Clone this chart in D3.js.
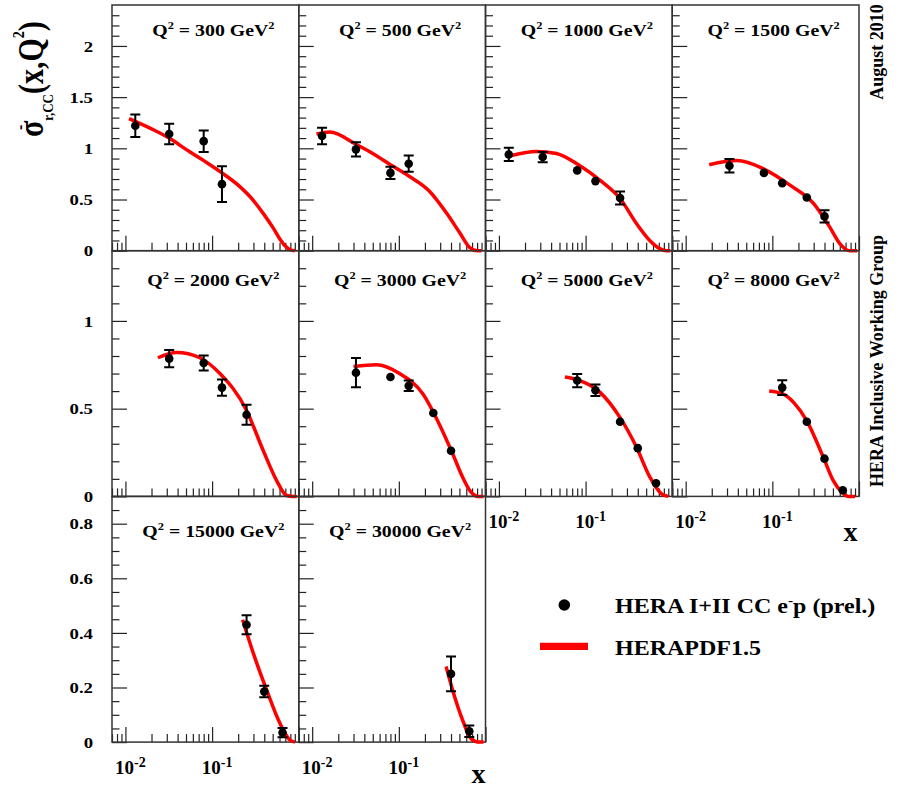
<!DOCTYPE html>
<html>
<head>
<meta charset="utf-8">
<script src="https://cdn.jsdelivr.net/npm/d3@7"></script>
<style>
  body { margin: 0; background: #fff; }
  svg { display: block; }
  text { font-family: "Liberation Serif", "Times New Roman", serif; font-weight: bold; fill: #000; }
</style>
</head>
<body>
<div id="chart"></div>
<script>
const q2List = [300, 500, 1000, 1500, 2000, 3000, 5000, 8000, 15000, 30000];

// measured points (x, sigma, error) per Q2 bin
const dataX = [
  [0.013, 0.032, 0.08, 0.13],
  [0.013, 0.032, 0.08, 0.13],
  [0.013, 0.032, 0.08, 0.13, 0.25],
  [0.032, 0.08, 0.13, 0.25, 0.4],
  [0.032, 0.08, 0.13, 0.25],
  [0.032, 0.08, 0.13, 0.25, 0.4],
  [0.08, 0.13, 0.25, 0.4, 0.65],
  [0.13, 0.25, 0.4, 0.65],
  [0.25, 0.4, 0.65],
  [0.4, 0.65]
];
const dataY = [
  [1.22, 1.14, 1.07, 0.65],
  [1.12, 0.99, 0.76, 0.85],
  [0.94, 0.915, 0.785, 0.68, 0.515],
  [0.83, 0.76, 0.66, 0.52, 0.335],
  [0.785, 0.76, 0.62, 0.465],
  [0.705, 0.68, 0.63, 0.475, 0.26],
  [0.66, 0.605, 0.425, 0.275, 0.075],
  [0.62, 0.425, 0.215, 0.035],
  [0.43, 0.185, 0.035],
  [0.25, 0.04]
];
const dataErr = [
  [0.11, 0.10, 0.105, 0.175],
  [0.08, 0.07, 0.06, 0.08],
  [0.065, 0.05, 0.015, 0.015, 0.064],
  [0.065, 0.015, 0.015, 0.015, 0.06],
  [0.049, 0.043, 0.046, 0.057],
  [0.083, 0.015, 0.03, 0.015, 0.015],
  [0.038, 0.033, 0.015, 0.015, 0.01],
  [0.042, 0.015, 0.015, 0.01],
  [0.035, 0.021, 0.017],
  [0.064, 0.021]
];

// HERAPDF1.5 prediction per Q2 bin
const fitX = [
  [0.011, 0.02, 0.032, 0.05, 0.08, 0.13, 0.2, 0.3, 0.4, 0.5, 0.6, 0.7, 0.8, 0.9],
  [0.0112, 0.016, 0.032, 0.05, 0.08, 0.13, 0.22, 0.36, 0.5, 0.66, 0.8, 0.9],
  [0.014, 0.027, 0.046, 0.086, 0.146, 0.25, 0.39, 0.55, 0.72, 0.85, 0.95],
  [0.0187, 0.039, 0.079, 0.16, 0.3, 0.46, 0.6, 0.78, 0.95],
  [0.0237, 0.039, 0.072, 0.123, 0.25, 0.39, 0.556, 0.725, 0.85, 0.95],
  [0.030, 0.055, 0.102, 0.189, 0.294, 0.418, 0.544, 0.68, 0.82, 0.95],
  [0.0577, 0.086, 0.146, 0.249, 0.387, 0.552, 0.753, 0.9],
  [0.092, 0.13, 0.18, 0.249, 0.387, 0.505, 0.63, 0.75, 0.9],
  [0.225, 0.3, 0.427, 0.608, 0.794, 0.9],
  [0.351, 0.418, 0.545, 0.68, 0.85, 0.95]
];
const fitY = [
  [1.29, 1.19, 1.10, 0.99, 0.88, 0.76, 0.64, 0.49, 0.35, 0.23, 0.12, 0.045, 0.008, 0],
  [1.14, 1.16, 1.04, 0.95, 0.84, 0.73, 0.59, 0.36, 0.18, 0.03, 0, 0],
  [0.93, 0.97, 0.95, 0.83, 0.69, 0.51, 0.26, 0.1, 0.02, 0, 0],
  [0.84, 0.88, 0.80, 0.64, 0.46, 0.23, 0.07, 0, 0],
  [0.79, 0.82, 0.79, 0.70, 0.49, 0.26, 0.09, 0.005, 0, 0],
  [0.74, 0.75, 0.70, 0.585, 0.41, 0.243, 0.11, 0.025, 0, 0],
  [0.68, 0.66, 0.594, 0.45, 0.28, 0.11, 0.015, 0],
  [0.60, 0.585, 0.53, 0.432, 0.224, 0.09, 0.025, 0, 0],
  [0.448, 0.324, 0.19, 0.068, 0.007, 0],
  [0.277, 0.19, 0.08, 0.013, 0, 0]
];

// axes
const xDomain = [0.007, 1];
const rowYMax = [2.4, 1.4, 0.9];
const rowMajor = [[0, 0.5, 1, 1.5, 2], [0, 0.5, 1], [0, 0.2, 0.4, 0.6, 0.8]];
const rowMinorStep = [0.1, 0.1, 0.05];
const xMajor = [0.01, 0.1, 1];
const xMinor = [0.007, 0.008, 0.009, 0.02, 0.03, 0.04, 0.05, 0.06, 0.07, 0.08, 0.09,
                0.2, 0.3, 0.4, 0.5, 0.6, 0.7, 0.8, 0.9];
const xLabelTicks = [0.01, 0.1];
const xLabelExp = ["-2", "-1"];
const labelledPanels = [6, 7, 8, 9];

const W = 901, H = 788;
const left0 = 112, top0 = 5, pw = 186.75, ph = 245.7;
const titleOffset = [30.7, 35.7, 40.7];

const svg = d3.select("#chart").append("svg")
  .attr("width", W)
  .attr("height", H);

function richText(sel, parts) {
  parts.forEach(p => {
    sel.append("tspan")
      .text(p.t)
      .style("font-size", p.s + "px")
      .attr("dy", p.dy || 0)
      .attr("dx", p.dx || 0);
  });
  return sel;
}

const line = d3.line().curve(d3.curveMonotoneX);

q2List.forEach((q2, i) => {
  const r = Math.floor(i / 4), c = i % 4;
  const g = svg.append("g")
    .attr("transform", "translate(" + (left0 + c * pw) + "," + (top0 + r * ph) + ")");

  const xScale = d3.scaleLog().domain(xDomain).range([0, pw]);
  const yScale = d3.scaleLinear().domain([0, rowYMax[r]]).range([ph, 0]);

  // y minor ticks
  const yMinor = d3.range(0, rowYMax[r] - 1e-9, rowMinorStep[r])
    .filter(v => !rowMajor[r].some(m => Math.abs(m - v) < 1e-6));
  const yMin = g.append("g").call(
    d3.axisLeft(yScale).tickValues(yMinor).tickSizeInner(-7.5).tickSizeOuter(0).tickFormat(""));
  const yMaj = g.append("g").call(
    d3.axisLeft(yScale).tickValues(rowMajor[r]).tickSizeInner(-15).tickSizeOuter(0)
      .tickPadding(19).tickFormat(c === 0 ? d3.format("") : ""));

  const xMin = g.append("g").attr("transform", "translate(0," + ph + ")").call(
    d3.axisBottom(xScale).tickValues(xMinor).tickSizeInner(-8).tickSizeOuter(0).tickFormat(""));
  const xMaj = g.append("g").attr("transform", "translate(0," + ph + ")").call(
    d3.axisBottom(xScale).tickValues(xMajor).tickSizeInner(-15).tickSizeOuter(0).tickFormat(""));

  [yMin, yMaj, xMin, xMaj].forEach(a => {
    a.select(".domain").remove();
    a.selectAll("line").attr("stroke", "#222").attr("stroke-width", 1.2);
  });

  if (c === 0) {
    yMaj.selectAll("text")
      .attr("x", 0)
      .attr("dy", "0.34em")
      .attr("transform", "translate(-19,0) scale(1.25,1)")
      .style("font-size", "15px");
  }

  if (labelledPanels.includes(i)) {
    const lab = g.append("g").attr("transform", "translate(0," + ph + ")");
    xLabelTicks.forEach((v, k) => {
      const t = lab.append("text")
        .attr("x", xScale(v) + 5)
        .attr("y", 31.5)
        .attr("text-anchor", "middle");
      richText(t, [{ t: "10", s: 19 }, { t: xLabelExp[k], s: 14, dy: -7 }]);
    });
  }

  // frame
  g.append("rect")
    .attr("width", pw)
    .attr("height", ph)
    .attr("fill", "none")
    .attr("stroke", "#333")
    .attr("stroke-width", 1.5);

  // prediction
  const pts = fitX[i].map((x, k) => [xScale(x), yScale(fitY[i][k])]);
  g.append("path")
    .attr("d", line(pts))
    .attr("fill", "none")
    .attr("stroke", "#ff0000")
    .attr("stroke-width", 3.5);

  // data
  const rows = dataX[i].map((x, k) => ({ x: x, y: dataY[i][k], e: dataErr[i][k] }));
  const bars = rows.filter(d => yScale(0) - yScale(d.e) > 4.5);
  g.selectAll(".err")
    .data(bars)
    .enter()
    .append("path")
    .attr("class", "err")
    .attr("d", d => {
      const x = xScale(d.x), y1 = yScale(d.y - d.e), y2 = yScale(d.y + d.e);
      return "M" + x + "," + y1 + "V" + y2 +
        "M" + (x - 5) + "," + y1 + "H" + (x + 5) +
        "M" + (x - 5) + "," + y2 + "H" + (x + 5);
    })
    .attr("fill", "none")
    .attr("stroke", "#000")
    .attr("stroke-width", 2);
  g.selectAll(".pt")
    .data(rows)
    .enter()
    .append("circle")
    .attr("class", "pt")
    .attr("cx", d => xScale(d.x))
    .attr("cy", d => yScale(d.y))
    .attr("r", 4.3)
    .attr("fill", "#000");

  // title
  const tg = g.append("g")
    .attr("transform", "translate(" + (pw / 2 + 8) + "," + titleOffset[r] + ") scale(1.24,1)");
  richText(tg.append("text").attr("text-anchor", "middle"), [
    { t: "Q", s: 16 }, { t: "2", s: 10, dy: -7 },
    { t: " = " + q2 + " GeV", s: 16, dy: 7 }, { t: "2", s: 10, dy: -7 }
  ]);
});

// y axis title
const yt = svg.append("g").attr("transform", "translate(43,137) rotate(-90) scale(1,1.2)");
richText(yt.append("text"), [
  { t: "σ", s: 30 },
  { t: "r,CC", s: 13, dy: 8 },
  { t: "(x,Q", s: 30, dy: -8 },
  { t: "2", s: 14, dy: -16 },
  { t: ")", s: 30, dy: 16 }
]);
yt.append("text").attr("x", 7).attr("y", -14).style("font-size", "16px").text("-");

// x axis titles
svg.append("text").attr("x", 850.5).attr("y", 541).attr("text-anchor", "middle")
  .style("font-size", "28px").text("x");
svg.append("text").attr("x", 478.5).attr("y", 783).attr("text-anchor", "middle")
  .style("font-size", "28px").text("x");

// side notes
svg.append("text").attr("transform", "translate(883,52) rotate(-90)")
  .attr("text-anchor", "middle").style("font-size", "18px").text("August 2010");
svg.append("text").attr("transform", "translate(883,361) rotate(-90)")
  .attr("text-anchor", "middle").style("font-size", "18px").text("HERA Inclusive Working Group");

// legend
svg.append("circle").attr("cx", 564.3).attr("cy", 605).attr("r", 5.8).attr("fill", "#000");
svg.append("line").attr("x1", 540).attr("x2", 588).attr("y1", 646.3).attr("y2", 646.3)
  .attr("stroke", "#ff0000").attr("stroke-width", 7.3);
const lg1 = svg.append("g").attr("transform", "translate(615,613) scale(1.2,1)");
richText(lg1.append("text"), [
  { t: "HERA I+II CC e", s: 20 }, { t: "-", s: 13, dy: -8 }, { t: "p (prel.)", s: 20, dy: 8 }
]);
const lg2 = svg.append("g").attr("transform", "translate(615,655) scale(1.2,1)");
richText(lg2.append("text"), [{ t: "HERAPDF1.5", s: 20 }]);
</script>
</body>
</html>
